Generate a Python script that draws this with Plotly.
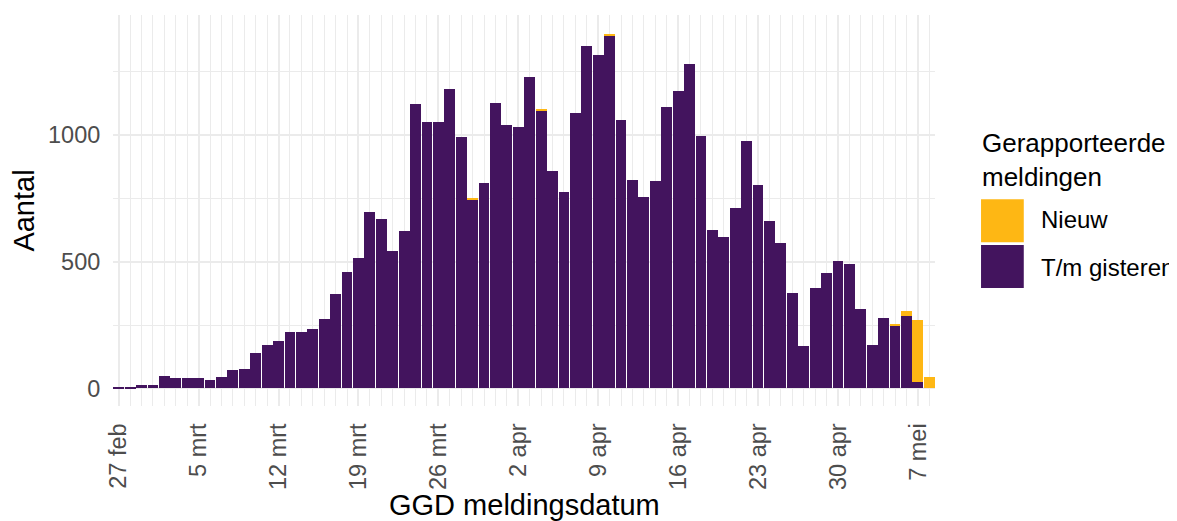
import pandas as pd
import plotly.graph_objects as go

# GGD meldingsdatum, 27 feb t/m 8 mei 2020
dates = pd.date_range("2020-02-27", "2020-05-08", freq="D")

# meldingen t/m gisteren (paars)
gisteren = [3, 5, 13, 13, 49, 41, 41, 41, 33, 45,
            72, 76, 139, 171, 187, 222, 222, 234, 274, 373,
            459, 514, 696, 668, 542, 621, 1125, 1054, 1054, 1184,
            991, 747, 810, 1129, 1042, 1034, 1231, 1097, 857, 774,
            1089, 1353, 1318, 1392, 1062, 825, 755, 818, 1113, 1176,
            1282, 995, 625, 597, 711, 979, 802, 660, 573, 377,
            168, 396, 455, 503, 491, 314, 172, 278, 247, 286,
            26, 0]

# nieuwe meldingen (oranje)
nieuw = [0] * 72
nieuw[31] = 4
nieuw[37] = 4
nieuw[43] = 8
nieuw[68] = 4
nieuw[69] = 20
nieuw[70] = 244
nieuw[71] = 46

tick_dates = pd.date_range("2020-02-27", "2020-05-07", freq="7D")
tick_labels = ["27 feb", "5 mrt", "12 mrt", "19 mrt", "26 mrt", "2 apr",
               "9 apr", "16 apr", "23 apr", "30 apr", "7 mei"]

purple = "#43145E"
orange = "#FEB714"
grid = "#EBEBEB"
font = "Liberation Sans, Arial, sans-serif"

fig = go.Figure()
fig.add_trace(go.Bar(x=dates, y=gisteren, name="T/m gisteren",
                     marker_color=purple, marker_line_width=0))
fig.add_trace(go.Bar(x=dates, y=nieuw, name="Nieuw",
                     marker_color=orange, marker_line_width=0))

# de pagina heeft 8px body-marge, dus figuur iets kleiner
fig.update_layout(
    width=1169, height=513,
    margin=dict(l=105, r=242, t=7, b=115),
    barmode="stack", bargap=0.05,
    plot_bgcolor="white", paper_bgcolor="white",
    showlegend=False,
    font=dict(family=font),
)

fig.update_xaxes(
    range=["2020-02-26 12:00", "2020-05-08 12:00"],
    automargin=False,
    tickmode="array", tickvals=tick_dates, ticktext=tick_labels,
    tickangle=-90, tickfont=dict(size=23.5, color="#4D4D4D"),
    ticks="outside", ticklen=7, tickcolor="rgba(0,0,0,0)",
    showgrid=True, gridcolor=grid, gridwidth=2,
    minor=dict(dtick=86400000, tick0="2020-02-27", showgrid=True,
               gridcolor=grid, gridwidth=1.2),
    zeroline=False, showline=False,
)
fig.update_yaxes(
    range=[-70, 1475],
    automargin=False,
    tickvals=[0, 500, 1000],
    tickfont=dict(size=23.5, color="#4D4D4D"),
    ticks="outside", ticklen=7, tickcolor="rgba(0,0,0,0)",
    showgrid=True, gridcolor=grid, gridwidth=2,
    minor=dict(dtick=250, showgrid=True, gridcolor=grid, gridwidth=1.2),
    zeroline=False, showline=False,
    title=dict(text="Aantal", font=dict(size=29, color="black"), standoff=7),
)

# x-as titel als annotatie, net als in het origineel laag onderaan
fig.add_annotation(text="GGD meldingsdatum", xref="paper", yref="paper",
                   x=0.5, y=-0.208, xanchor="center", yanchor="top",
                   showarrow=False, font=dict(size=29, color="black"))

# handgemaakte legenda
fig.add_annotation(text="Gerapporteerde<br>meldingen", xref="paper", yref="paper",
                   x=1.055, y=0.715, xanchor="left", yanchor="top", showarrow=False,
                   align="left", font=dict(size=26, color="black"))
fig.add_shape(type="rect", xref="paper", yref="paper", x0=1.056, x1=1.108,
              y0=0.419, y1=0.529, fillcolor=orange, line_width=0)
fig.add_shape(type="rect", xref="paper", yref="paper", x0=1.056, x1=1.108,
              y0=0.302, y1=0.412, fillcolor=purple, line_width=0)
fig.add_annotation(text="Nieuw", xref="paper", yref="paper", x=1.1265, y=0.476,
                   xanchor="left", yanchor="middle", showarrow=False,
                   font=dict(size=24, color="black"))
fig.add_annotation(text="T/m gisteren", xref="paper", yref="paper", x=1.1265, y=0.355,
                   xanchor="left", yanchor="middle", showarrow=False,
                   font=dict(size=24, color="black"))

fig.write_html("out.html")
